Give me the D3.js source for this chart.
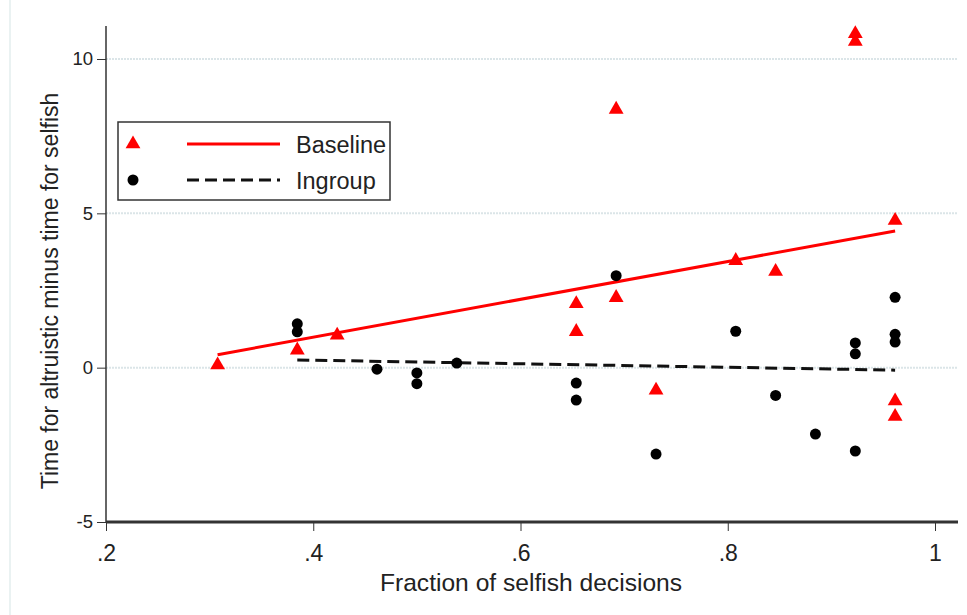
<!DOCTYPE html>
<html>
<head>
<meta charset="utf-8">
<script src="https://cdn.jsdelivr.net/npm/d3@7"></script>
<style>
  body { margin: 0; background: #fff; }
  svg { font-family: Arial, "Liberation Sans", sans-serif; }
  .grid line { stroke: #dbe5e8; stroke-width: 2; stroke-dasharray: 2,1; }
  .axis text { fill: #222; }
  .axis line { stroke: #333; }
</style>
</head>
<body>
<div id="chart"></div>
<script>
// x = fraction of selfish decisions, y = time difference
const baselineX = [0.3077, 0.3846, 0.4231, 0.6538, 0.6538, 0.6923, 0.6923, 0.7308, 0.8077, 0.8462, 0.9231, 0.9231, 0.9615, 0.9615, 0.9615];
const baselineY = [0.12, 0.6, 1.08, 2.1, 1.2, 8.4, 2.3, -0.7, 3.5, 3.15, 10.85, 10.6, 4.8, -1.05, -1.55];

const ingroupX = [0.3846, 0.3846, 0.4615, 0.5, 0.5, 0.5385, 0.6538, 0.6538, 0.6923, 0.7308, 0.8077, 0.8462, 0.8846, 0.9231, 0.9231, 0.9231, 0.9615, 0.9615, 0.9615];
const ingroupY = [1.42, 1.16, -0.05, -0.17, -0.52, 0.15, -0.5, -1.05, 2.98, -2.8, 1.18, -0.9, -2.15, 0.8, 0.45, -2.7, 2.28, 1.08, 0.83];

// fitted lines, endpoints
const baselineFitX = [0.3077, 0.9615];
const baselineFitY = [0.42, 4.43];
const ingroupFitX = [0.3846, 0.9615];
const ingroupFitY = [0.25, -0.08];

const xTicks = [0.2, 0.4, 0.6, 0.8, 1];
const yTicks = [-5, 0, 5, 10];
const gridTicks = [0, 5, 10];

const width = 967, height = 615;
const margin = { left: 106, right: 32, top: 59, bottom: 93 };
const plotRight = 958, plotTop = 26;

const svg = d3.select('#chart').append('svg')
  .attr('width', width)
  .attr('height', height);

const x = d3.scaleLinear().domain([0.2, 1]).range([margin.left, width - margin.right]);
const y = d3.scaleLinear().domain([-5, 10]).range([height - margin.bottom, margin.top]);

// faint frame line on the left edge
svg.append('line')
  .attr('x1', 10).attr('x2', 10)
  .attr('y1', 0).attr('y2', height)
  .attr('stroke', '#e3eeee')
  .attr('stroke-width', 1.5);

// grid
svg.append('g')
  .attr('class', 'grid')
  .selectAll('line')
  .data(gridTicks)
  .enter()
  .append('line')
    .attr('x1', margin.left)
    .attr('x2', plotRight)
    .attr('y1', d => y(d))
    .attr('y2', d => y(d));

// axes
const yAxis = d3.axisLeft(y)
  .tickValues(yTicks)
  .tickSize(9)
  .tickPadding(4)
  .tickFormat(d => String(d));

const xAxis = d3.axisBottom(x)
  .tickValues(xTicks)
  .tickSize(9)
  .tickPadding(14)
  .tickFormat(d => d === 1 ? '1' : String(d).replace('0.', '.'));

const gy = svg.append('g')
  .attr('class', 'axis')
  .attr('transform', 'translate(' + margin.left + ',0)')
  .call(yAxis);
gy.selectAll('text').attr('font-size', 18.5);
gy.select('.domain').remove();
gy.append('line')
  .attr('x1', 0).attr('x2', 0)
  .attr('y1', plotTop).attr('y2', y(-5))
  .attr('stroke', '#444')
  .attr('stroke-width', 1.5);

const gx = svg.append('g')
  .attr('class', 'axis')
  .attr('transform', 'translate(0,' + y(-5) + ')')
  .call(xAxis);
gx.selectAll('text').attr('font-size', 23);
gx.select('.domain').remove();
gx.append('line')
  .attr('x1', margin.left).attr('x2', plotRight)
  .attr('y1', 0).attr('y2', 0)
  .attr('stroke', '#666')
  .attr('stroke-width', 3);

// axis titles
svg.append('text')
  .attr('x', 531)
  .attr('y', 591)
  .attr('text-anchor', 'middle')
  .attr('font-size', 24.6)
  .attr('fill', '#222')
  .text('Fraction of selfish decisions');

svg.append('text')
  .attr('transform', 'translate(58,' + 291 + ') rotate(-90)')
  .attr('text-anchor', 'middle')
  .attr('font-size', 23)
  .attr('fill', '#222')
  .text('Time for altruistic minus time for selfish');

// fit lines
const line = d3.line().x(d => x(d[0])).y(d => y(d[1]));

svg.append('path')
  .datum(d3.zip(ingroupFitX, ingroupFitY))
  .attr('d', line)
  .attr('fill', 'none')
  .attr('stroke', '#111')
  .attr('stroke-width', 3)
  .attr('stroke-dasharray', '12,6');

svg.append('path')
  .datum(d3.zip(baselineFitX, baselineFitY))
  .attr('d', line)
  .attr('fill', 'none')
  .attr('stroke', '#ff0000')
  .attr('stroke-width', 3);

// points
const tri = d3.symbol().type(d3.symbolTriangle).size(95);

svg.append('g')
  .selectAll('circle')
  .data(d3.zip(ingroupX, ingroupY))
  .enter()
  .append('circle')
    .attr('cx', d => x(d[0]))
    .attr('cy', d => y(d[1]))
    .attr('r', 5.5)
    .attr('fill', '#000');

svg.append('g')
  .selectAll('path')
  .data(d3.zip(baselineX, baselineY))
  .enter()
  .append('path')
    .attr('d', tri)
    .attr('transform', d => 'translate(' + x(d[0]) + ',' + (y(d[1]) + 1) + ')')
    .attr('fill', '#ff0000');

// legend
const legend = svg.append('g').attr('transform', 'translate(118,122)');
legend.append('rect')
  .attr('width', 272).attr('height', 78)
  .attr('fill', '#fff')
  .attr('stroke', '#333')
  .attr('stroke-width', 1.5);

legend.append('path')
  .attr('d', tri)
  .attr('transform', 'translate(15,22)')
  .attr('fill', '#ff0000');
legend.append('line')
  .attr('x1', 69).attr('x2', 162)
  .attr('y1', 22).attr('y2', 22)
  .attr('stroke', '#ff0000')
  .attr('stroke-width', 3);
legend.append('text')
  .attr('x', 178).attr('y', 31)
  .attr('font-size', 23.5)
  .attr('fill', '#222')
  .text('Baseline');

legend.append('circle')
  .attr('cx', 15).attr('cy', 58)
  .attr('r', 5.5)
  .attr('fill', '#000');
legend.append('line')
  .attr('x1', 69).attr('x2', 162)
  .attr('y1', 58).attr('y2', 58)
  .attr('stroke', '#111')
  .attr('stroke-width', 3)
  .attr('stroke-dasharray', '12,6');
legend.append('text')
  .attr('x', 178).attr('y', 67)
  .attr('font-size', 23.5)
  .attr('fill', '#222')
  .text('Ingroup');
</script>
</body>
</html>
